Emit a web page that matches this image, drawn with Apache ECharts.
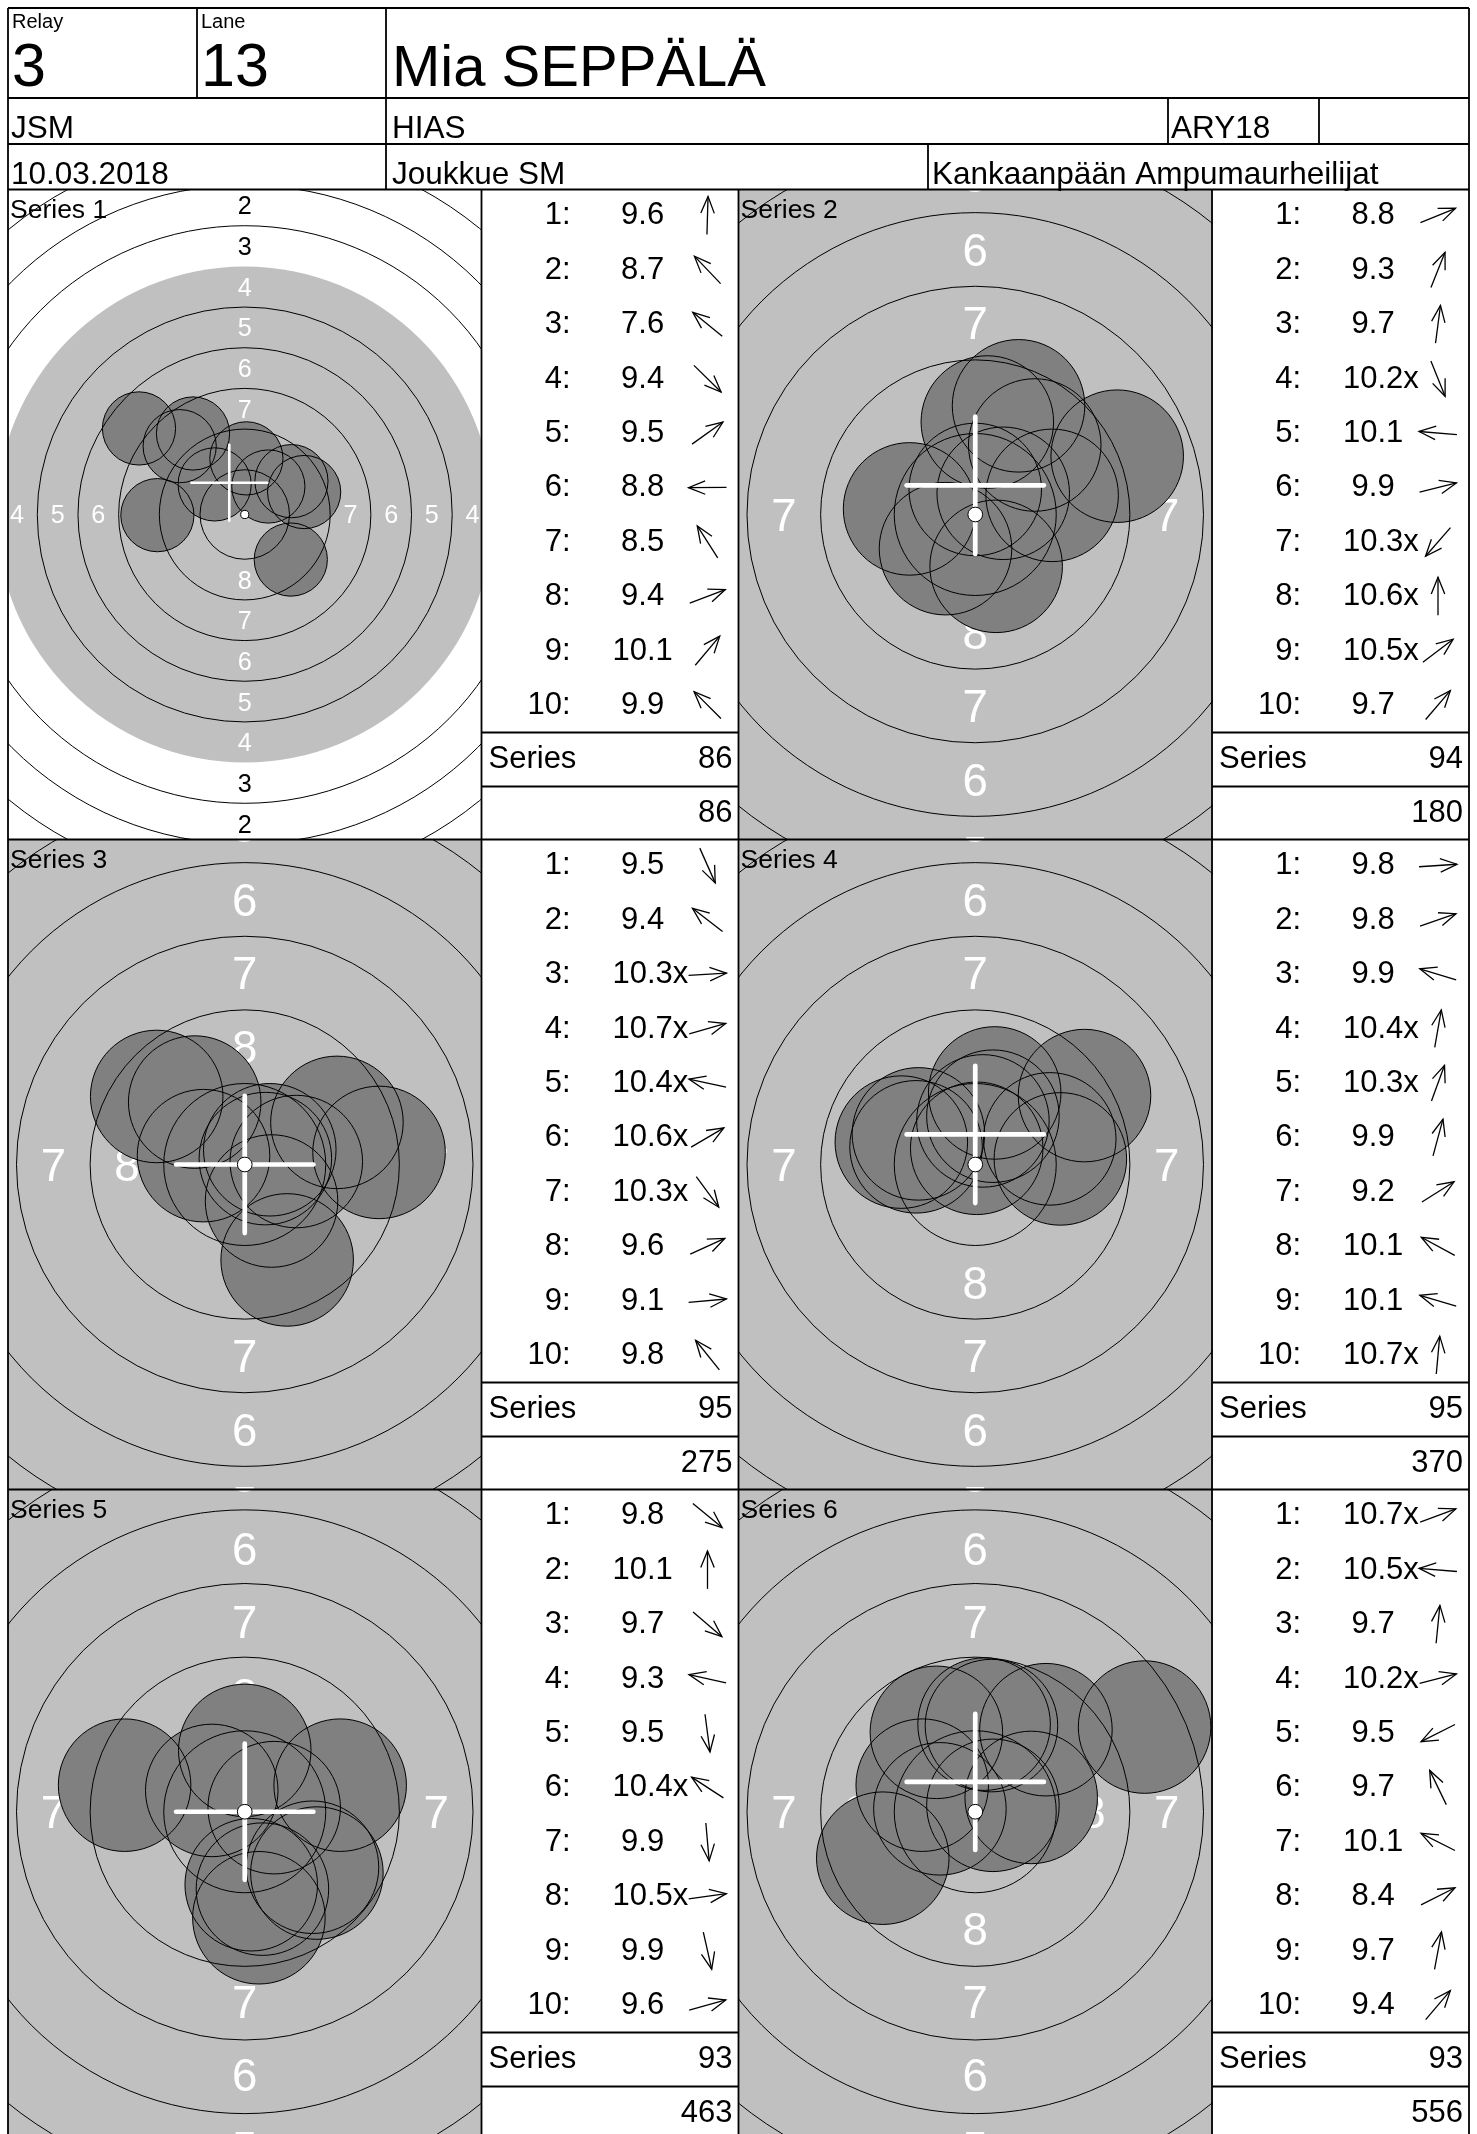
<!DOCTYPE html>
<html><head><meta charset="utf-8">
<script src="https://cdn.jsdelivr.net/npm/echarts/dist/echarts.min.js"></script>
<style>html,body{margin:0;padding:0;background:#fff}#c{width:1477px;height:2134px}</style>
</head><body><div id="c"></div>
<script>
// ---------------- data read from the scorecard ----------------
const relayNo = '3';
const laneNo = '13';
const shooterName = 'Mia SEPPÄLÄ';
const headerRow2 = ['JSM', 'HIAS', 'ARY18', ''];
const headerRow3 = ['10.03.2018', 'Joukkue SM', 'Kankaanpään Ampumaurheilijat'];
const seriesLabels = ['Series 1', 'Series 2', 'Series 3', 'Series 4', 'Series 5', 'Series 6'];

const scoresS1 = ['9.6', '8.7', '7.6', '9.4', '9.5', '8.8', '8.5', '9.4', '10.1', '9.9'];
const scoresS2 = ['8.8', '9.3', '9.7', '10.2x', '10.1', '9.9', '10.3x', '10.6x', '10.5x', '9.7'];
const scoresS3 = ['9.5', '9.4', '10.3x', '10.7x', '10.4x', '10.6x', '10.3x', '9.6', '9.1', '9.8'];
const scoresS4 = ['9.8', '9.8', '9.9', '10.4x', '10.3x', '9.9', '9.2', '10.1', '10.1', '10.7x'];
const scoresS5 = ['9.8', '10.1', '9.7', '9.3', '9.5', '10.4x', '9.9', '10.5x', '9.9', '9.6'];
const scoresS6 = ['10.7x', '10.5x', '9.7', '10.2x', '9.5', '9.7', '10.1', '8.4', '9.7', '9.4'];

// shot centres in mm from the target centre (x right, y up)
const shotXS1 = [0.10, -4.00, -6.50, 2.83, 2.87, -5.37, -3.18, 3.65, 1.45, -1.85];
const shotYS1 = [3.45, 4.20, 5.29, -2.77, 2.05, -0.04, 4.98, 1.38, 1.72, 1.85];
const shotXS2 = [4.82, 1.47, 0.41, 0.71, -2.23, 2.61, -1.01, 0.00, 0.95, 2.02];
const shotYS2 = [1.98, 3.69, 3.14, -1.76, 0.19, 0.65, -1.16, 0.85, 0.72, 2.36];
const shotXS3 = [1.44, -2.99, 1.75, 0.70, -1.40, 0.85, 0.91, 3.13, 4.56, -1.70];
const shotYS3 = [-3.24, 2.31, 0.10, 0.20, 0.30, 0.50, -1.24, 1.43, 0.41, 2.12];
const shotXS4 = [2.89, 2.53, -2.51, 0.26, 0.60, 0.66, 3.71, -1.93, -2.01, 0.05];
const shotYS4 = [0.19, 0.87, 0.76, 1.48, 1.64, 2.43, 2.34, 1.04, 0.60, 0.55];
const shotXS5 = [2.30, 0.00, 2.45, -4.08, 0.48, -1.12, 0.22, 1.00, 0.60, 3.24];
const shotYS5 = [-1.90, 2.10, -2.10, 0.91, -3.63, 0.73, -2.50, 0.14, -2.65, 0.91];
const shotXS6 = [0.60, -1.20, 0.30, 1.90, -3.14, -1.32, -1.80, 5.75, 0.55, 2.40];
const shotYS6 = [0.22, 0.10, 3.00, 0.49, -1.59, 2.72, 0.91, 2.90, 2.95, 2.81];

const seriesSums = [86, 94, 95, 95, 93, 93];
const runningTotals = [86, 180, 275, 370, 463, 556];
const crossX = [-0.95, 0, 0, 0, 0, 0];
const crossY = [1.95, 0.99, 0, 1.02, 0, 1.02];

const ringNumbers = [1, 2, 3, 4, 5, 6, 7, 8];
const ringRadiiMM = [22.75, 20.25, 17.75, 15.25, 12.75, 10.25, 7.75, 5.25, 2.75, 0.25]; // rings 1..10
const pelletRadiusMM = 2.25;
const blackRingIndex = 3; // ring 4 edge = aiming mark edge

const allScores = [scoresS1, scoresS2, scoresS3, scoresS4, scoresS5, scoresS6];
const allX = [shotXS1, shotXS2, shotXS3, shotXS4, shotXS5, shotXS6];
const allY = [shotYS1, shotYS2, shotYS3, shotYS4, shotYS5, shotYS6];

// ---------------- layout ----------------
const FONT = "'Liberation Sans', Arial, Helvetica, sans-serif";
const X0 = 8, XR = 1469, TW = 473.5, TBW = 257;
const Y0 = 189.5, PH = 650;
const pxPerMm = [16.27, 29.45, 29.45, 29.45, 29.45, 29.45];
const LW = 1.8;
const TF = 31; // table font

const chart = echarts.init(document.getElementById('c'), null, {renderer: 'canvas'});

const G = [];
function gline(x1, y1, x2, y2, w) {
  G.push({type: 'line', z: 100, silent: true, shape: {x1, y1, x2, y2}, style: {stroke: '#000', lineWidth: w || LW}});
}
function gtext(x, base, str, size, align) {
  G.push({type: 'text', z: 101, silent: true, x: x, y: base - 0.31 * size,
    style: {text: str, fontSize: size, fontFamily: FONT, fill: '#000', align: align || 'left', verticalAlign: 'middle'}});
}

// header
gline(X0, 8, XR, 8);
gline(X0, 8, X0, 2140);
gline(XR, 8, XR, 2140);
gline(X0, 98, XR, 98);
gline(X0, 144, XR, 144);
gline(X0, Y0, XR, Y0);
gline(197, 8, 197, 98);
gline(386, 8, 386, Y0);
gline(1168, 98, 1168, 144);
gline(1319, 98, 1319, 144);
gline(928, 144, 928, Y0);
gtext(12, 29, 'Relay', 20);
gtext(12, 88, relayNo, 61);
gtext(201, 29, 'Lane', 20);
gtext(201, 88, laneNo, 61);
gtext(392, 88, shooterName, 58);
gtext(11, 139, headerRow2[0], 31.5);
gtext(392, 139, headerRow2[1], 31.5);
gtext(1171, 139, headerRow2[2], 31.5);
gtext(11, 185, headerRow3[0], 31.5);
gtext(392, 185, headerRow3[1], 31.5);
gtext(932, 185, headerRow3[2], 31.5);

// panels
for (let r = 1; r < 3; r++) gline(X0, Y0 + r * PH, XR, Y0 + r * PH);
gline(X0, Y0 + 3 * PH, XR, Y0 + 3 * PH);
[X0 + TW, X0 + TW + TBW, X0 + 2 * TW + TBW].forEach(x => gline(x, Y0, x, 2140));

const grids = [], xAxes = [], yAxes = [], series = [];

function circ(api, x, y, r) {
  const c = api.coord([x, y]);
  const s = api.size([r, r]);
  return {cx: c[0], cy: c[1], r: s[0]};
}

for (let i = 0; i < 6; i++) {
  const row = Math.floor(i / 2), col = i % 2;
  const tl = X0 + col * (TW + TBW);
  const top = Y0 + row * PH;
  const k = pxPerMm[i];
  const hx = TW / 2 / k, hy = PH / 2 / k;
  grids.push({left: tl, top: top, width: TW, height: PH, show: false});
  xAxes.push({type: 'value', gridIndex: i, min: -hx, max: hx, show: false});
  yAxes.push({type: 'value', gridIndex: i, min: -hy, max: hy, show: false});
  const base = {type: 'custom', coordinateSystem: 'cartesian2d', xAxisIndex: i, yAxisIndex: i,
    clip: true, silent: true, encode: {x: 0, y: 1}, animation: false};

  // aiming mark
  series.push(Object.assign({}, base, {z: 2, data: [[0, 0, ringRadiiMM[blackRingIndex]]],
    renderItem: (p, api) => ({type: 'circle', shape: circ(api, api.value(0), api.value(1), api.value(2)),
      style: {fill: '#c0c0c0', stroke: 'none'}})}));

  // ring numbers
  const labData = [];
  ringNumbers.forEach(n => {
    const m = ringRadiiMM[n - 1] - 1.25;
    labData.push([0, m, n], [0, -m, n], [-m, 0, n], [m, 0, n]);
  });
  series.push(Object.assign({}, base, {z: 3, data: labData,
    renderItem: (p, api) => {
      const c = api.coord([api.value(0), api.value(1)]);
      const n = api.value(2);
      const fs = api.size([1.55, 1.55])[0];
      const inBlack = ringRadiiMM[n - 1] <= ringRadiiMM[blackRingIndex];
      return {type: 'text', x: c[0], y: c[1] + fs * 0.08,
        style: {text: String(n), fill: inBlack ? '#fff' : '#000', fontSize: fs, fontFamily: FONT,
          align: 'center', verticalAlign: 'middle'}};
    }}));

  const shots = allX[i].map((x, j) => [x, allY[i][j], pelletRadiusMM]);
  // shot fills
  series.push(Object.assign({}, base, {z: 4, data: shots,
    renderItem: (p, api) => ({type: 'circle', shape: circ(api, api.value(0), api.value(1), api.value(2)),
      style: {fill: '#808080', stroke: 'none'}})}));
  // ring lines
  const lines = ringRadiiMM.filter((r, idx) => idx !== blackRingIndex && idx !== 9).map(r => [0, 0, r]);
  series.push(Object.assign({}, base, {z: 5, data: lines,
    renderItem: (p, api) => ({type: 'circle', shape: circ(api, api.value(0), api.value(1), api.value(2)),
      style: {fill: 'none', stroke: '#000', lineWidth: 1}})}));
  // shot outlines
  series.push(Object.assign({}, base, {z: 6, data: shots,
    renderItem: (p, api) => ({type: 'circle', shape: circ(api, api.value(0), api.value(1), api.value(2)),
      style: {fill: 'none', stroke: '#000', lineWidth: 1}})}));
  // cross
  series.push(Object.assign({}, base, {z: 7, data: [[crossX[i], crossY[i]]],
    renderItem: (p, api) => {
      const x = api.value(0), y = api.value(1), L = 2.33;
      const a = api.coord([x - L, y]), b = api.coord([x + L, y]);
      const c = api.coord([x, y - L]), d = api.coord([x, y + L]);
      const w = api.size([0.16, 0.16])[0];
      const st = {stroke: '#fff', lineWidth: w, lineCap: 'round'};
      return {type: 'group', children: [
        {type: 'line', shape: {x1: a[0], y1: a[1], x2: b[0], y2: b[1]}, style: st},
        {type: 'line', shape: {x1: c[0], y1: c[1], x2: d[0], y2: d[1]}, style: st}]};
    }}));
  // ten dot
  series.push(Object.assign({}, base, {z: 8, data: [[0, 0, ringRadiiMM[9]]],
    renderItem: (p, api) => ({type: 'circle', shape: circ(api, api.value(0), api.value(1), api.value(2)),
      style: {fill: '#fff', stroke: '#000', lineWidth: 1}})}));

  // series label
  gtext(tl + 2, top + 29, seriesLabels[i], 26.5);

  // table
  const L = tl + TW, R = L + TBW;
  gline(L, top + 543, R, top + 543);
  gline(L, top + 597, R, top + 597);
  allScores[i].forEach((s, j) => {
    const bl = top + 36 + j * 54.4;
    gtext(L + 89, bl, (j + 1) + ':', TF, 'right');
    const isX = s.endsWith('x');
    const num = isX ? s.slice(0, -1) : s;
    const pad = num.length < 4 ? 0.278 * TF : 0;
    gtext(L + 131 + pad, bl, s, TF, 'left');
    // direction arrow from shot position
    const th = Math.atan2(allY[i][j], allX[i][j]);
    const cx = L + 226, cy = top + 26 + j * 54.4, h = 19, hl = 18, ha = 22 * Math.PI / 180;
    const ux = Math.cos(th), uy = -Math.sin(th);
    const tip = [cx + ux * h, cy + uy * h], tail = [cx - ux * h, cy - uy * h];
    const back = Math.atan2(-uy, -ux);
    const a1 = [tip[0] + hl * Math.cos(back + ha), tip[1] + hl * Math.sin(back + ha)];
    const a2 = [tip[0] + hl * Math.cos(back - ha), tip[1] + hl * Math.sin(back - ha)];
    G.push({type: 'polyline', z: 100, silent: true, shape: {points: [tail, tip]}, style: {stroke: '#000', lineWidth: 1.3, fill: 'none'}});
    G.push({type: 'polyline', z: 100, silent: true, shape: {points: [a1, tip, a2]}, style: {stroke: '#000', lineWidth: 1.3, fill: 'none'}});
  });
  gtext(L + 7, top + 579.5, 'Series', TF);
  gtext(R - 6, top + 579.5, String(seriesSums[i]), TF, 'right');
  gtext(R - 6, top + 634, String(runningTotals[i]), TF, 'right');
}

chart.setOption({
  animation: false,
  backgroundColor: '#fff',
  grid: grids, xAxis: xAxes, yAxis: yAxes,
  series: series,
  graphic: {elements: G}
});
</script></body></html>
